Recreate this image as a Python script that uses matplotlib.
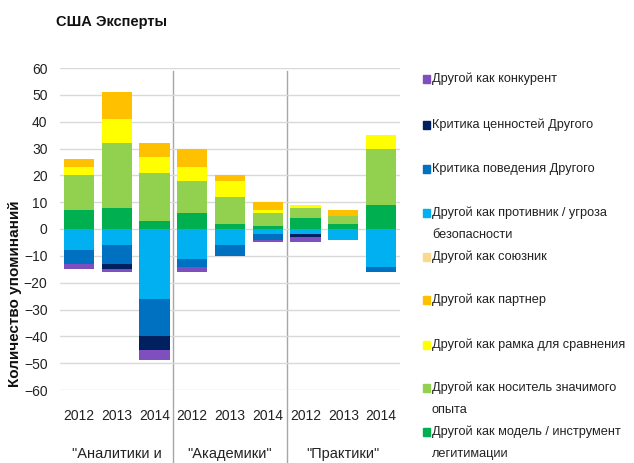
import matplotlib
matplotlib.use("Agg")
import matplotlib.pyplot as plt
from matplotlib.patches import Rectangle
import numpy as np

plt.rcParams['font.family'] = ['Liberation Sans', 'DejaVu Sans']

years = ["2012", "2013", "2014"] * 3
groups = ['"Аналитики и', '"Академики"', '"Практики"']

# stacking order (bottom-up), legend shows reversed
series_labels = [
    "Другой как модель / инструмент\nлегитимации",
    "Другой как носитель значимого\nопыта",
    "Другой как рамка для сравнения",
    "Другой как партнер",
    "Другой как союзник",
    "Другой как противник / угроза\nбезопасности",
    "Критика поведения Другого",
    "Критика ценностей Другого",
    "Другой как конкурент",
]
series_colors = ["#00B050", "#92D050", "#FFFF00", "#FFC000", "#FAD98E",
                 "#00B0F0", "#0070C0", "#002060", "#7F4FC0"]

model      = [7, 8, 3, 6, 2, 1, 4, 2, 9]
experience = [13, 24, 18, 12, 10, 5, 4, 3, 21]
frame      = [3, 9, 6, 5, 6, 1, 1, 0, 5]
partner    = [3, 10, 5, 7, 2, 3, 0, 2, 0]
ally       = [0, 0, 0, 0, 0, 0, 0, 0, 0]
threat     = [-8, -6, -26, -11, -6, -2, -2, -4, -14]
behavior   = [-5, -7, -14, -3, -4, -2, 0, 0, -2]
values     = [0, -2, -5, 0, 0, 0, -1, 0, 0]
competitor = [-2, -1, -4, -2, 0, -1, -2, 0, 0]

series = [model, experience, frame, partner, ally, threat, behavior, values, competitor]

W, H = 634, 463
fig = plt.figure(figsize=(W / 100, H / 100), dpi=100)
ax = fig.add_axes([60 / W, 1 - 390 / H, 340 / W, 322 / H])

x = np.arange(len(years))
pos_base = np.zeros(len(x))
neg_base = np.zeros(len(x))
for vals, col in zip(series, series_colors):
    v = np.array(vals, dtype=float)
    pos = np.where(v > 0, v, 0)
    neg = np.where(v < 0, v, 0)
    ax.bar(x, pos, bottom=pos_base, width=0.8, color=col, zorder=3, linewidth=0)
    ax.bar(x, neg, bottom=neg_base, width=0.8, color=col, zorder=3, linewidth=0)
    pos_base += pos
    neg_base += neg

ax.set_xlim(-0.5, len(x) - 0.5)
ax.set_ylim(-60, 60)
ax.set_yticks(np.arange(-60, 61, 10))
ax.grid(axis='y', color='#D9D9D9', linewidth=1, zorder=0)
for s in ax.spines.values():
    s.set_visible(False)
ax.tick_params(axis='both', length=0, labelsize=10, colors='#222222')
ax.tick_params(axis='y', pad=9)
ax.set_xticks(x)
ax.set_xticklabels(years)
ax.tick_params(axis='x', pad=14)

# group separators
for b in [2.5, 5.5]:
    ax.plot([b, b], [59, -88], color='#A6A6A6', linewidth=1, clip_on=False, zorder=1)

# group labels
for i, g in enumerate(groups):
    ax.text(3 * i + 1, -84, g, ha='center', va='center', fontsize=10.5, color='#222222')

fig.text(15 / W, 1 - 294 / H, "Количество упоминаний", rotation=90, ha='center',
         va='center', fontsize=11, fontweight='bold', color='#111111')
fig.text(56 / W, 1 - 22 / H, "США Эксперты", ha='left', va='center',
         fontsize=10.5, fontweight='bold', color='#111111')

# legend (reversed order)
leg_y = [79, 125, 169, 213, 257, 300, 345, 388, 432]
for yy, lab, col in zip(leg_y, series_labels[::-1], series_colors[::-1]):
    fig.patches.append(Rectangle((423 / W, 1 - (yy + 4) / H), 7 / W, 8 / H,
                                 transform=fig.transFigure, color=col, figure=fig))
    lines = lab.split("\n")
    fig.text(432 / W, 1 - yy / H, lines[0], ha='left', va='center', fontsize=9.2,
             color='#222222')
    if len(lines) > 1:
        fig.text(432 / W, 1 - (yy + 22) / H, lines[1], ha='left', va='center',
                 fontsize=9.2, color='#222222')

fig.savefig("out.png", dpi=100)
